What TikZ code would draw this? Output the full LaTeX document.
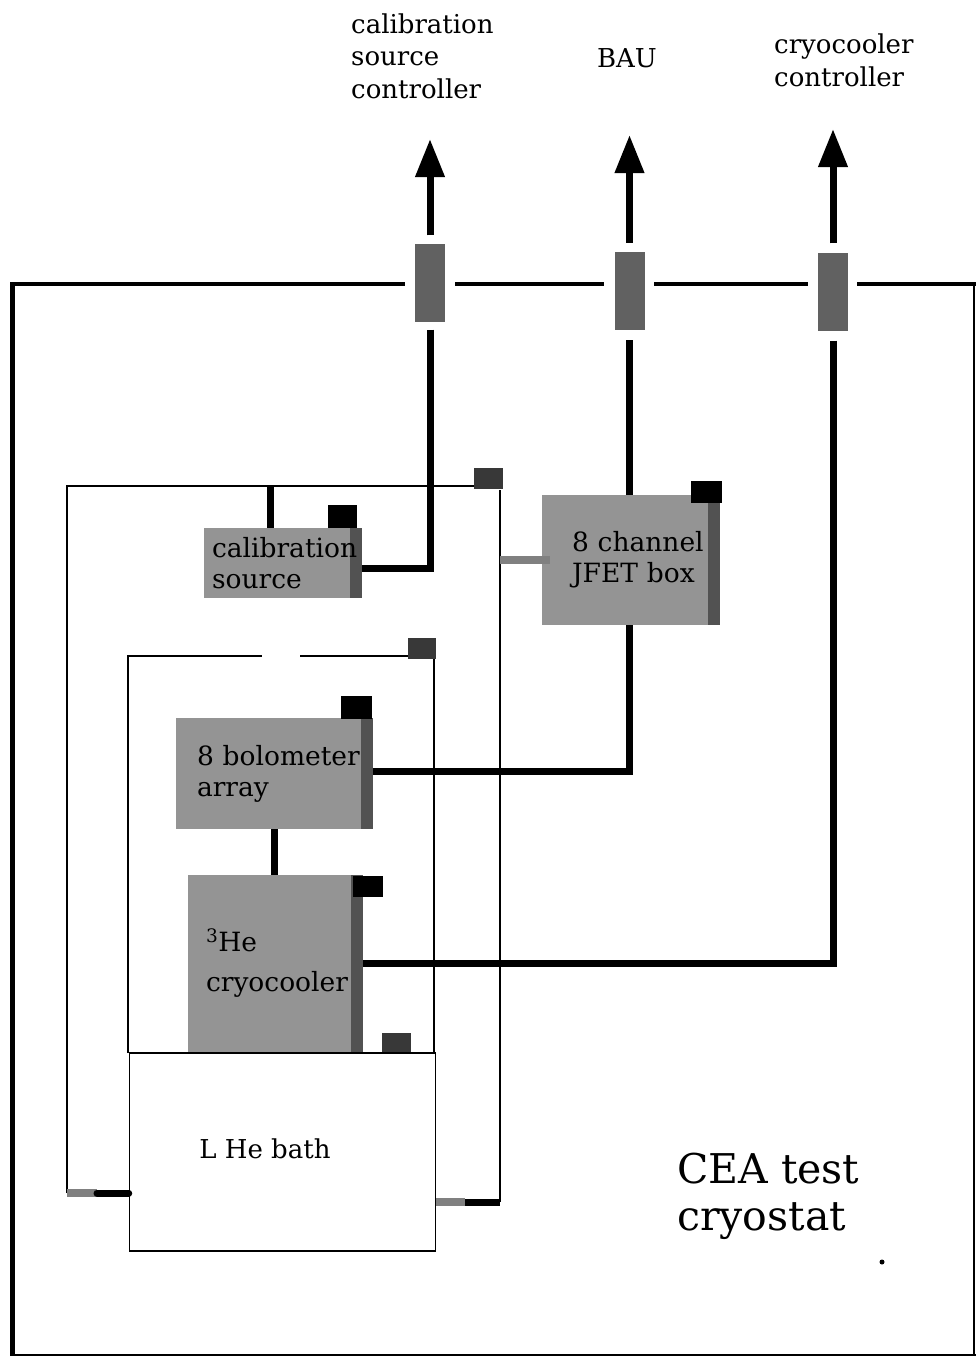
\documentclass[tikz,border=0pt]{standalone}
\usepackage{fontspec}
\setmainfont{DejaVu Serif}
\usetikzlibrary{arrows.meta}
\hyphenpenalty=10000
\exhyphenpenalty=10000
\begin{document}
\begin{tikzpicture}[x=1pt,y=-1pt,
  wire/.style={line width=7pt},
  greywire/.style={line width=8pt,black!50},
  shield/.style={line width=2.2pt},
  unit/.style={fill=black!42, inner ysep=0pt, align=left, text=black,
    font=\fontsize{26.5}{31}\selectfont,
    path picture={\fill[black!68] ([xshift=-12pt]path picture bounding box.north east) rectangle (path picture bounding box.south east);}},
  feed/.style={fill=black!62, inner sep=0pt, minimum width=30pt, minimum height=78pt},
  tag/.style={fill=black, inner sep=0pt, minimum width=30pt, minimum height=22pt},
  gtag/.style={fill=black!78, inner sep=0pt, minimum width=29pt, minimum height=21pt},
  lbl/.style={inner sep=0pt, align=left, font=\fontsize{26}{32.5}\selectfont},
  tip/.style={-{Triangle[width=28pt,length=38pt]}}
]
\useasboundingbox (0,0) rectangle (976,1358);

% outer cryostat wall
\draw[line width=5pt] (12,282) -- (12,1356);
\draw[line width=2.5pt] (12,1355) -- (976,1355);
\draw[line width=2pt] (974,284) -- (974,1355);
\draw[line width=3.5pt] (10,284) -- (405,284);
\draw[line width=3.5pt] (455,284) -- (604,284);
\draw[line width=3.5pt] (654,284) -- (808,284);
\draw[line width=3.5pt] (857,284) -- (976,284);

% feedthroughs
\node[feed] (f1) at (430,282.5) {};
\node[feed] (f2) at (629.5,291) {};
\node[feed] (f3) at (833,291.5) {};

% outside arrows
\coordinate (t1) at (430,139);
\coordinate (t2) at (629.5,135);
\coordinate (t3) at (833,129);
\draw[wire,tip] ([yshift=8pt]f1.north) -- (t1);
\draw[wire,tip] ([yshift=9pt]f2.north) -- (t2);
\draw[wire,tip] ([yshift=9pt]f3.north) -- (t3);

% labels
\node[lbl,anchor=base west] (lcal) at (351,98) {calibration\\source\\controller};
\node[lbl,anchor=base] (lbau) at (627,67) {BAU};
\node[lbl,anchor=base west] (lcry) at (774,86) {cryocooler\\controller};

% outer shield (shield 1)
\coordinate (s1tl) at (67,486);
\coordinate (s1bl) at (67,1193);
\coordinate (s1tr) at (500,486);
\coordinate (s1br) at (500,1202);
\draw[shield] (s1bl) -- (s1tl) -- (474,486);
\draw[shield] (500,490) -- (s1br);
\node[gtag] (s1tag) at (488,478.5) {};

% inner shield (shield 2)
\coordinate (s2tl) at (128,656);
\coordinate (s2tr) at (434,656);
\draw[shield] (128,1053) -- (s2tl) -- (262,656);
\draw[shield] (300,656) -- (409,656);
\draw[shield] (s2tr) -- (434,1053);
\node[gtag, minimum width=28pt] (s2tag) at (422,648.5) {};

% units
\node[unit, minimum width=158pt, minimum height=70pt, inner xsep=8pt, text width=142pt] (cal) at (283,563) {calibration\\source};
\node[tag, minimum width=29pt, minimum height=23pt] (caltag) at (342.5,516.5) {};

\node[unit, minimum width=178pt, minimum height=130pt, inner xsep=30pt, text width=118pt] (jfet) at (631,560) {8~channel\\JFET~box};
\node[tag, minimum width=31pt] (jfettag) at (706.5,492) {};

\node[unit, minimum width=197pt, minimum height=111pt, inner xsep=21pt, text width=155pt] (bolo) at (274.5,773.5) {8~bolometer\\array};
\node[tag, minimum width=31pt, minimum height=23pt] (bolotag) at (356.5,707.5) {};

\node[unit, minimum width=175pt, minimum height=177pt, inner xsep=18pt, text width=139pt] (cryo) at (275.5,963.5) {\textsuperscript{3}He\\[9pt]cryocooler};
\node[tag, minimum height=21pt] (cryotag) at (368,886.5) {};
\node[gtag, minimum height=20pt] (bottag) at (396,1043) {};

% L He bath
\node[draw, line width=1.5pt, fill=white, minimum width=306pt, minimum height=198pt, inner sep=0pt] (lhe) at (282.5,1152) {};
\node[lbl,anchor=base] (lhetxt) at (265,1158) {L He bath};

% wires
\draw[wire] ([yshift=-8pt]f1.south) |- ([yshift=-5pt]cal.east);
\draw[wire] ([yshift=-10pt]f2.south) -- (f2 |- jfet.north);
\draw[wire] ([yshift=-10pt]f3.south) |- (cryo.east);
\draw[wire] (f2 |- jfet.south) |- ([yshift=2pt]bolo.east);
\draw[wire] ([xshift=-13pt]cal.north) -- ([xshift=-13pt]cal.north |- s1tl);
\draw[wire] (bolo.south) -- (bolo.south |- cryo.north);
\draw[greywire] (s1tr |- jfet.west) -- ([xshift=8pt]jfet.west);

% thermal links to bath
\draw[greywire] (s1bl) -- (97,1193);
\draw[wire, line cap=round] (97,1193) -- (lhe.west |- s1bl);
\draw[greywire] (lhe.east |- s1br) -- (465,1202);
\draw[wire] (465,1202) -- (s1br);

% CEA label
\node[inner sep=0pt, align=left, anchor=base west, font=\fontsize{41}{47}\selectfont] (cea) at (677,1230) {CEA test\\cryostat};
\fill (882,1262) circle (2.5pt);
\end{tikzpicture}
\end{document}
